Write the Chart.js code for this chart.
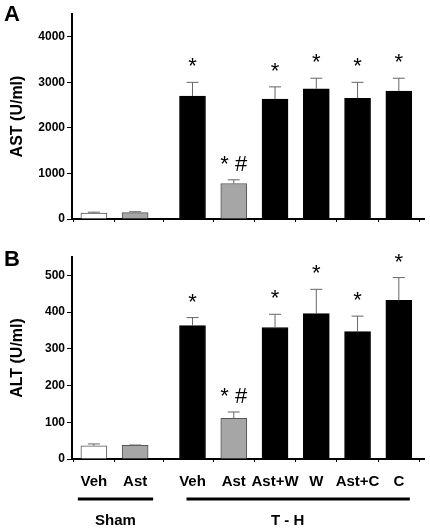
<!DOCTYPE html>
<html>
<head>
<meta charset="utf-8">
<script src="https://cdn.jsdelivr.net/npm/chart.js@4.4.1/dist/chart.umd.min.js"></script>
<style>
  body { margin: 0; background: #fff; }
  #wrap { position: relative; width: 430px; height: 528px; }
  canvas { position: absolute; left: 0; }
  #cA { top: 0; }
  #cB { top: 240px; }
</style>
</head>
<body>
<div id="wrap">
  <canvas id="cA" width="430" height="240"></canvas>
  <canvas id="cB" width="430" height="288"></canvas>
</div>
<script>
// grupos
const grupos = ['Veh', 'Ast', 'Veh', 'Ast', 'Ast+W', 'W', 'Ast+C', 'C'];
const tratamento = ['Sham', 'Sham', 'T - H', 'T - H', 'T - H', 'T - H', 'T - H', 'T - H'];

// AST (U/ml)
const astMedia = [130, 140, 2700, 780, 2630, 2860, 2650, 2810];
const astErro = [20, 20, 300, 80, 270, 230, 350, 280];
const astTicks = [0, 1000, 2000, 3000, 4000];

// ALT (U/ml)
const altMedia = [36, 37, 363, 111, 358, 396, 347, 432];
const altErro = [5, 1, 22, 17, 36, 66, 42, 62];
const altTicks = [0, 100, 200, 300, 400, 500];

// significancia
const marcas = ['', '', '*', '* #', '*', '*', '*', '*'];

const FONTE = 'Arial, "Liberation Sans", sans-serif';
const CORES = ['#ffffff', '#a6a6a6', '#000', '#a6a6a6', '#000', '#000', '#000', '#000'];
const BORDAS = ['#555', '#555', '#000', '#555', '#000', '#000', '#000', '#000'];
const GAP = 0.39; // espaço entre Sham e T-H

const posX = grupos.map((g, i) => i + (tratamento[i] === 'T - H' ? GAP : 0));

// barras de erro + asteriscos
const erroPlugin = {
  id: 'erro',
  afterDatasetsDraw(chart) {
    const ctx = chart.ctx;
    const y = chart.scales.y;
    const meta = chart.getDatasetMeta(0);
    const err = chart.options.plugins.erro.valores;
    const media = chart.data.datasets[0].data.map(d => d.y);
    ctx.save();
    meta.data.forEach((bar, i) => {
      const topo = y.getPixelForValue(media[i] + err[i]);
      ctx.strokeStyle = '#666';
      ctx.lineWidth = 1;
      ctx.beginPath();
      ctx.moveTo(bar.x, bar.y);
      ctx.lineTo(bar.x, topo);
      ctx.moveTo(bar.x - 6, topo);
      ctx.lineTo(bar.x + 6, topo);
      ctx.stroke();
      if (marcas[i]) {
        ctx.fillStyle = '#000';
        ctx.font = '22px ' + FONTE;
        ctx.textAlign = 'center';
        ctx.textBaseline = 'middle';
        ctx.fillText(marcas[i], bar.x, topo - 15);
      }
    });
    ctx.restore();
  }
};

// letra do painel, linhas de grupo
const extraPlugin = {
  id: 'extra',
  afterDraw(chart) {
    const ctx = chart.ctx;
    const o = chart.options.plugins.extra;
    ctx.save();
    ctx.fillStyle = '#000';
    ctx.font = 'bold 22px ' + FONTE;
    ctx.textAlign = 'left';
    ctx.textBaseline = 'alphabetic';
    ctx.fillText(o.letra, 4, o.letraY);
    if (o.grupos) {
      const xs = chart.getDatasetMeta(0).data.map(b => b.x);
      const linhaY = chart.chartArea.bottom + 40;
      ctx.lineWidth = 3;
      ctx.strokeStyle = '#000';
      ctx.beginPath();
      ctx.moveTo(xs[0] - 16, linhaY);
      ctx.lineTo(xs[1] + 18, linhaY);
      ctx.moveTo(xs[2] - 6, linhaY);
      ctx.lineTo(xs[7] + 11, linhaY);
      ctx.stroke();
      ctx.font = 'bold 15px ' + FONTE;
      ctx.textAlign = 'center';
      ctx.textBaseline = 'middle';
      ctx.fillText('Sham', (xs[0] + xs[1]) / 2 + 1, linhaY + 22);
      ctx.fillText('T - H', (xs[2] + xs[7]) / 2 - 8, linhaY + 22);
    }
    ctx.restore();
  }
};

function criarGrafico(id, media, erro, ticksY, maxY, titulo, opts) {
  return new Chart(document.getElementById(id), {
    type: 'bar',
    data: {
      datasets: [{
        data: media.map((v, i) => ({ x: posX[i], y: v })),
        backgroundColor: CORES,
        borderColor: BORDAS,
        borderWidth: 1,
        barThickness: 26
      }]
    },
    options: {
      responsive: false,
      animation: false,
      layout: { padding: { top: opts.top, right: 6, left: 0, bottom: 0 } },
      scales: {
        x: {
          type: 'linear',
          offset: false,
          min: -0.53,
          max: 8.0,
          afterBuildTicks: s => { s.ticks = posX.map(v => ({ value: v })); },
          afterFit: s => { s.height = opts.altX; },
          ticks: {
            display: opts.labels,
            autoSkip: false,
            maxRotation: 0,
            padding: 11,
            color: '#000',
            font: { family: FONTE, size: 15, weight: 'bold' },
            callback: (v, i) => grupos[i]
          },
          grid: { drawOnChartArea: false, drawTicks: true, tickLength: 3, color: '#000' },
          border: { display: true, color: '#000', width: 2 }
        },
        y: {
          min: 0,
          max: maxY,
          afterBuildTicks: s => { s.ticks = ticksY.map(v => ({ value: v })); },
          afterFit: s => { s.width = 72; },
          ticks: {
            padding: 2,
            color: '#000',
            font: { family: FONTE, size: 12, weight: 'bold' },
            callback: v => String(v)
          },
          grid: { drawOnChartArea: false, drawTicks: true, tickLength: 5, color: '#000' },
          border: { display: true, color: '#000', width: 2 },
          title: {
            display: true,
            text: titulo,
            color: '#000',
            padding: { top: 8, bottom: 0 },
            font: { family: FONTE, size: 16, weight: 'bold' }
          }
        }
      },
      plugins: {
        legend: { display: false },
        tooltip: { enabled: false },
        erro: { valores: erro },
        extra: { letra: opts.letra, letraY: opts.letraY, grupos: opts.labels }
      }
    },
    plugins: [erroPlugin, extraPlugin]
  });
}

criarGrafico('cA', astMedia, astErro, astTicks, 4500, 'AST (U/ml)',
  { top: 14, altX: 21, labels: false, letra: 'A', letraY: 21 });
criarGrafico('cB', altMedia, altErro, altTicks, 550, 'ALT (U/ml)',
  { top: 17, altX: 69, labels: true, letra: 'B', letraY: 26 });
</script>
</body>
</html>
